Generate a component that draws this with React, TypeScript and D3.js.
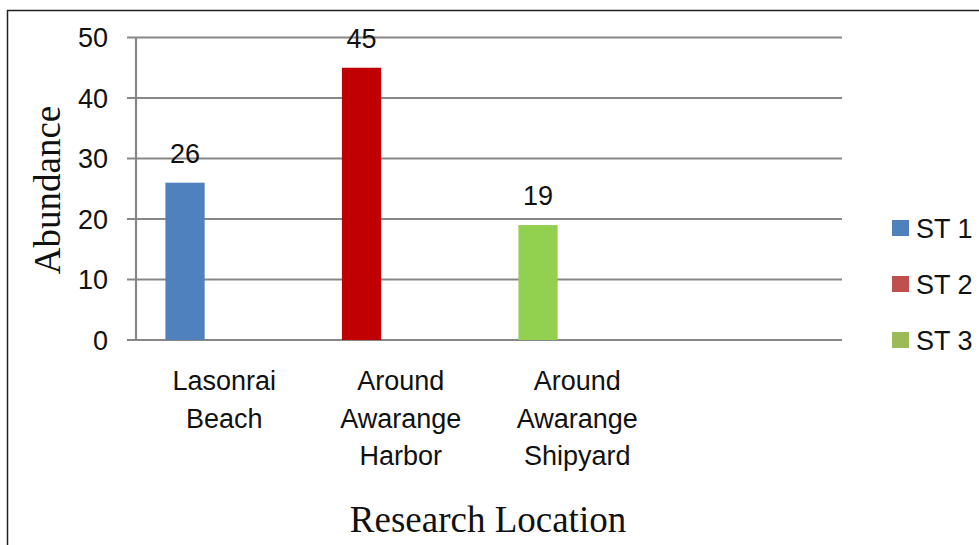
import { useEffect, useRef } from 'react'
import * as d3 from 'd3'

// values
const categories = ['Lasonrai Beach', 'Around Awarange Harbor', 'Around Awarange Shipyard', '']
const categoryLines = [['Lasonrai', 'Beach'], ['Around', 'Awarange', 'Harbor'], ['Around', 'Awarange', 'Shipyard'], []]
const seriesNames = ['ST 1', 'ST 2', 'ST 3']
const abundance = [26, 45, 19]
const barColors = ['#4F81BD', '#C00000', '#92D050']
const legendColors = ['#4F81BD', '#C0504D', '#9BBB59']
const yTicks = [0, 10, 20, 30, 40, 50]

const W = 979
const H = 545

export default function App() {
  const svgRef = useRef<SVGSVGElement>(null)

  useEffect(() => {
    if (!svgRef.current) return
    const svg = d3.select(svgRef.current)
    svg.selectAll('*').remove()

    const left = 136
    const right = 842
    const top = 37.5
    const bottom = 340
    const sans = '"Liberation Sans", Arial, sans-serif'
    const serif = '"Liberation Serif", "Times New Roman", serif'
    const grid = '#878787'
    const fs = '27px'

    svg.append('rect').attr('width', W).attr('height', H).attr('fill', '#fff')

    // outer frame (top and left edges visible)
    svg.append('path')
      .attr('d', `M7.5,${H + 2} L7.5,10.5 L${W + 2},10.5`)
      .attr('fill', 'none')
      .attr('stroke', '#222')
      .attr('stroke-width', 1.5)

    const x0 = d3.scaleBand<string>().domain(categories).range([left, right])
    // three slots per category, 150% gap width as in the source
    const x1 = d3.scaleBand<string>().domain(seriesNames).range([0, x0.bandwidth()]).paddingOuter(0.75)
    const y = d3.scaleLinear().domain([0, 50]).range([bottom, top])

    // gridlines + tick marks
    svg.append('g')
      .selectAll('line')
      .data(yTicks)
      .join('line')
      .attr('x1', left - 9)
      .attr('x2', right)
      .attr('y1', d => y(d))
      .attr('y2', d => y(d))
      .attr('stroke', grid)
      .attr('stroke-width', 2.2)

    svg.append('line')
      .attr('x1', left).attr('x2', left)
      .attr('y1', y(50)).attr('y2', y(0))
      .attr('stroke', grid)
      .attr('stroke-width', 2.2)

    svg.append('g')
      .selectAll('text')
      .data(yTicks)
      .join('text')
      .attr('x', 108)
      .attr('y', d => y(d))
      .attr('dy', '0.36em')
      .attr('text-anchor', 'end')
      .style('font-family', sans)
      .style('font-size', fs)
      .style('fill', '#111')
      .text(d => d)

    // bars (each location fills the first slot of its group)
    const bars = svg.append('g')
    abundance.forEach((v, i) => {
      const bx = (x0(categories[i]) ?? 0) + (x1(seriesNames[0]) ?? 0)
      bars.append('rect')
        .attr('x', bx)
        .attr('y', y(v))
        .attr('width', x1.bandwidth())
        .attr('height', y(0) - y(v))
        .attr('fill', barColors[i])
      bars.append('text')
        .attr('x', bx + x1.bandwidth() / 2)
        .attr('y', y(v) - 20)
        .attr('text-anchor', 'middle')
        .style('font-family', sans)
        .style('font-size', fs)
        .style('fill', '#111')
        .text(v)
    })

    // category labels
    const xl = svg.append('g')
    categories.forEach((c, i) => {
      const cx = (x0(c) ?? 0) + x0.bandwidth() / 2
      const t = xl.append('text')
        .attr('text-anchor', 'middle')
        .style('font-family', sans)
        .style('font-size', fs)
        .style('fill', '#111')
      categoryLines[i].forEach((line, j) => {
        t.append('tspan').attr('x', cx).attr('y', 390 + j * 37.5).text(line)
      })
    })

    // axis titles
    svg.append('text')
      .attr('transform', `translate(60,190) rotate(-90)`)
      .attr('text-anchor', 'middle')
      .style('font-family', serif)
      .style('font-size', '37px')
      .style('fill', '#111')
      .text('Abundance')

    svg.append('text')
      .attr('x', 488)
      .attr('y', 532)
      .attr('text-anchor', 'middle')
      .style('font-family', serif)
      .style('font-size', '37px')
      .style('fill', '#111')
      .text('Research Location')

    // legend
    const lg = svg.append('g')
    seriesNames.forEach((s, i) => {
      const cy = 228 + i * 56
      lg.append('rect')
        .attr('x', 892).attr('y', cy - 8)
        .attr('width', 17).attr('height', 16)
        .attr('fill', legendColors[i])
      lg.append('text')
        .attr('x', 916).attr('y', cy)
        .attr('dy', '0.36em')
        .style('font-family', sans)
        .style('font-size', fs)
        .style('fill', '#111')
        .text(s)
    })
  }, [])

  return (
    <svg
      ref={svgRef}
      width={W}
      height={H}
      style={{ position: 'absolute', left: 0, top: 0, display: 'block' }}
    />
  )
}
